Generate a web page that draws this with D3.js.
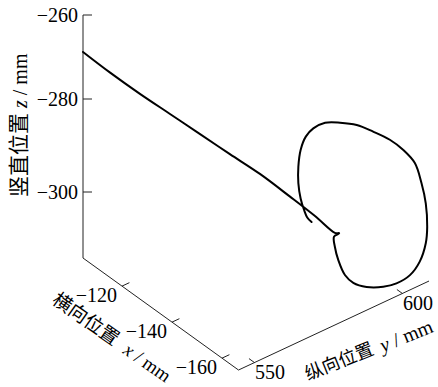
<!DOCTYPE html>
<html><head><meta charset="utf-8">
<script src="https://cdn.jsdelivr.net/npm/d3@7"></script>
<style>body{margin:0;background:#fff}</style>
</head><body><svg id="c" width="438" height="387"></svg>
<script>
const xLim = [-166.6, -104.4];
const yLim = [544.6, 609];
const zLim = [-314.2, -260];
const xTicks = [-120, -140, -160];
const yTicks = [550, 600];
const zTicks = [-260, -280, -300];
const xTitle = ["横向位置", "x", " / mm"];
const yTitle = ["纵向位置", "y", " / mm"];
const zTitle = ["竖直位置", "z", " / mm"];

const xs = [-104.4,-110.4,-117.0,-123.7,-130.4,-137.0,-143.7,-150.3,-155.9,-160.3,-160.5,
  -160.2,-160.3,-160.5,-160.9,-161.4,-162.2,-163.2,-164.0,-164.9,-165.5,-165.9,-166.0,-165.9,-165.6,
  -165.2,-164.5,-163.6,-162.6,-161.6,-160.6,-159.7,-158.9,-158.5,-158.2,-158.0,-158.0,-158.2,-158.4,-158.6,-158.8];
const ys = [544.6,548.7,553.2,557.7,562.2,566.7,571.2,575.8,579.5,582.5,583.8,
  582.3,582.5,583.5,585.4,587.8,591.6,596.4,600.2,604.0,606.8,608.5,608.9,608.5,607.3,
  605.4,602.0,598.3,593.5,588.8,584.0,579.7,576.4,574.2,572.7,572.1,572.1,572.7,573.7,574.6,575.9];
const zs = [-268.8,-272.5,-276.2,-279.6,-282.7,-285.8,-288.8,-292.5,-295.6,-298.4,-298.8,
  -299.2,-301.4,-304.5,-308.1,-310.3,-312.0,-313.0,-313.1,-312.1,-309.8,-306.2,-302.7,-297.6,-293.0,
  -288.3,-284.7,-281.8,-278.9,-276.2,-274.5,-273.5,-274.1,-275.5,-278.3,-282.0,-285.5,-288.9,-291.6,-293.4,-294.7];

const svg = d3.select("#c");
const xScale = d3.scaleLinear().domain([xLim[1], xLim[0]]).range([0, 1]);
const yScale = d3.scaleLinear().domain(yLim).range([0, 1]);
const zScale = d3.scaleLinear().domain([-260, -280, -300]).range([15, 99, 192]);
const ox = 83;
const ex = [155.5, 112], ey = [190.5, -89];
function P(x, y, z) {
  const u = xScale(x), v = yScale(y);
  return [ox + ex[0]*u + ey[0]*v, zScale(z) + ex[1]*u + ey[1]*v];
}
const axCol = "#222";
function seg(a, b) {
  svg.append("line").attr("x1", a[0]).attr("y1", a[1]).attr("x2", b[0]).attr("y2", b[1])
    .attr("stroke", axCol).attr("stroke-width", 1);
}
// axes
seg(P(xLim[1], yLim[0], zLim[1]), P(xLim[1], yLim[0], zLim[0]));
seg(P(xLim[1], yLim[0], zLim[0]), P(xLim[0], yLim[0], zLim[0]));
seg(P(xLim[0], yLim[0], zLim[0]), P(xLim[0], yLim[1], zLim[0]));

const fmt = v => (v < 0 ? "\u2212" + Math.abs(v) : "" + v);
const tf = "'Liberation Serif','Times New Roman',serif";
// z ticks
zTicks.forEach(t => {
  const p = P(xLim[1], yLim[0], t);
  seg(p, [p[0] + 9, p[1]]);
  svg.append("text").attr("x", p[0] - 5).attr("y", p[1] + 7).attr("text-anchor", "end")
    .attr("font-family", tf).attr("font-size", 20).text(fmt(t));
});
// x ticks
xTicks.forEach(t => {
  const p = P(t, yLim[0], zLim[0]);
  const q = P(t, yLim[0] + 2.5, zLim[0]);
  seg(p, q);
  svg.append("text").attr("x", p[0] - 5).attr("y", p[1] + 15.5).attr("text-anchor", "end")
    .attr("font-family", tf).attr("font-size", 20).text(fmt(t));
});
// y ticks
yTicks.forEach(t => {
  const p = P(xLim[0], t, zLim[0]);
  const q = P(xLim[0] + 2.2, t, zLim[0]);
  seg(p, q);
  svg.append("text").attr("x", p[0] + 15.5).attr("y", p[1] + 16.5).attr("text-anchor", "middle")
    .attr("font-family", tf).attr("font-size", 20).text(fmt(t));
});
// titles: CJK part then Latin part along a rotated baseline
function title(parts, sx, sy, ang, cjkSize, latOff, latSize, latDy) {
  const g = svg.append("g").attr("transform", `translate(${sx},${sy}) rotate(${ang})`);
  g.append("text").attr("x", 0).attr("y", 0).attr("dominant-baseline", "central")
    .attr("font-family", "'Noto Sans CJK SC',sans-serif").attr("font-size", cjkSize).text(parts[0]);
  const t = g.append("text").attr("x", latOff).attr("y", latDy).attr("dominant-baseline", "central")
    .attr("font-family", tf).attr("font-size", latSize);
  t.append("tspan").attr("font-style", "italic").text(parts[1]);
  t.append("tspan").text(parts[2]);
}
title(zTitle, 17, 197, -90, 21, 89, 20, 3);
title(xTitle, 56, 295.5, 35, 19, 87, 19, 2);
title(yTitle, 305.1, 373.2, -22, 18, 80, 20, 3);

// data curve
const pts = xs.map((x, i) => P(x, ys[i], zs[i]));
svg.append("path").attr("d", d3.line().curve(d3.curveCatmullRom.alpha(0.5))(pts))
  .attr("fill", "none").attr("stroke", "#000").attr("stroke-width", 2)
  .attr("stroke-linejoin", "round").attr("stroke-linecap", "round");
</script></body></html>
